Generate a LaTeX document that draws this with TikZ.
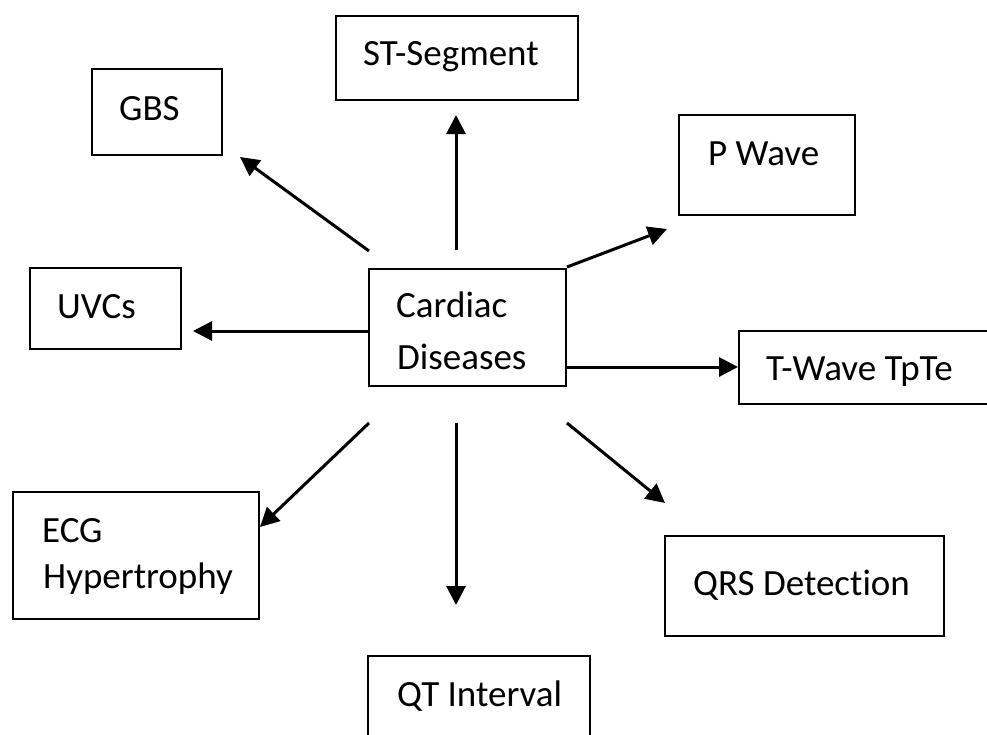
\documentclass[tikz,border=0pt]{standalone}
\usepackage{fontspec}
\setmainfont{Carlito}[Ligatures=NoCommon]
\usetikzlibrary{arrows.meta}
\tikzset{
  box/.style={draw=black, line width=2.5pt, inner sep=0pt, fill=none},
  lbl/.style={inner sep=0pt, anchor=base west, font=\fontsize{37}{44}\selectfont},
  conn/.style={line width=3pt, -{Triangle[length=19pt,width=19pt]}},
}
\begin{document}
\begin{tikzpicture}[x=1pt,y=-1pt]
\useasboundingbox (0,0) rectangle (987,734);
\clip (0,0) rectangle (987,734);
\fill[white] (0,0) rectangle (987,734);
% boxes
\node[box, minimum width=242pt, minimum height=84pt] (stbox) at (457,58) {};
\node[box, minimum width=130pt, minimum height=86pt] (gbsbox) at (157,112) {};
\node[box, minimum width=176pt, minimum height=100pt] (pbox) at (767,165) {};
\node[box, minimum width=151pt, minimum height=81pt] (uvcbox) at (105.5,308.5) {};
\node[box, minimum width=197pt, minimum height=117pt] (cardbox) at (467.5,327.5) {};
\node[box, minimum width=270pt, minimum height=73pt] (tbox) at (874,367.5) {};
\node[box, minimum width=246pt, minimum height=127pt] (ecgbox) at (136,555.5) {};
\node[box, minimum width=279pt, minimum height=100pt] (qrsbox) at (804.5,586) {};
\node[box, minimum width=222pt, minimum height=110pt] (qtbox) at (479,711) {};
% texts
\node[lbl] (sttxt) at (363,65) {ST-Segment};
\node[lbl] (gbstxt) at (119,120) {GBS};
\node[lbl] (ptxt) at (708,165) {P Wave};
\node[lbl] (uvctxt) at (57,318) {UVCs};
\node[lbl] (cardtxta) at (396,317) {Cardiac};
\node[lbl] (cardtxtb) at (397,369) {Diseases};
\node[lbl] (ttxt) at (766,380) {T-Wave TpTe};
\node[lbl] (ecgtxta) at (42,542) {ECG};
\node[lbl] (ecgtxtb) at (43,588) {Hypertrophy};
\node[lbl] (qrstxt) at (693,595) {QRS Detection};
\node[lbl] (qttxt) at (397,706) {QT Interval};
% connector end points
\coordinate (s1) at (456,250);  \coordinate (e1) at (456,115);
\coordinate (s2) at (369,251);  \coordinate (e2) at (240,157);
\coordinate (s3) at (567,267);  \coordinate (e3) at (667,229);
\coordinate (s4) at (369,331);  \coordinate (e4) at (193,331);
\coordinate (s5) at (566,367);  \coordinate (e5) at (738,367);
\coordinate (s6) at (369,423);  \coordinate (e6) at (260,527);
\coordinate (s7) at (456,423);  \coordinate (e7) at (456,605);
\coordinate (s8) at (567,423);  \coordinate (e8) at (665,503);
\draw[conn] (s1) -- (e1);
\draw[conn] (s2) -- (e2);
\draw[conn] (s3) -- (e3);
\draw[conn] (s4) -- (e4);
\draw[conn] (s5) -- (e5);
\draw[conn] (s6) -- (e6);
\draw[conn] (s7) -- (e7);
\draw[conn] (s8) -- (e8);
\end{tikzpicture}
\end{document}
